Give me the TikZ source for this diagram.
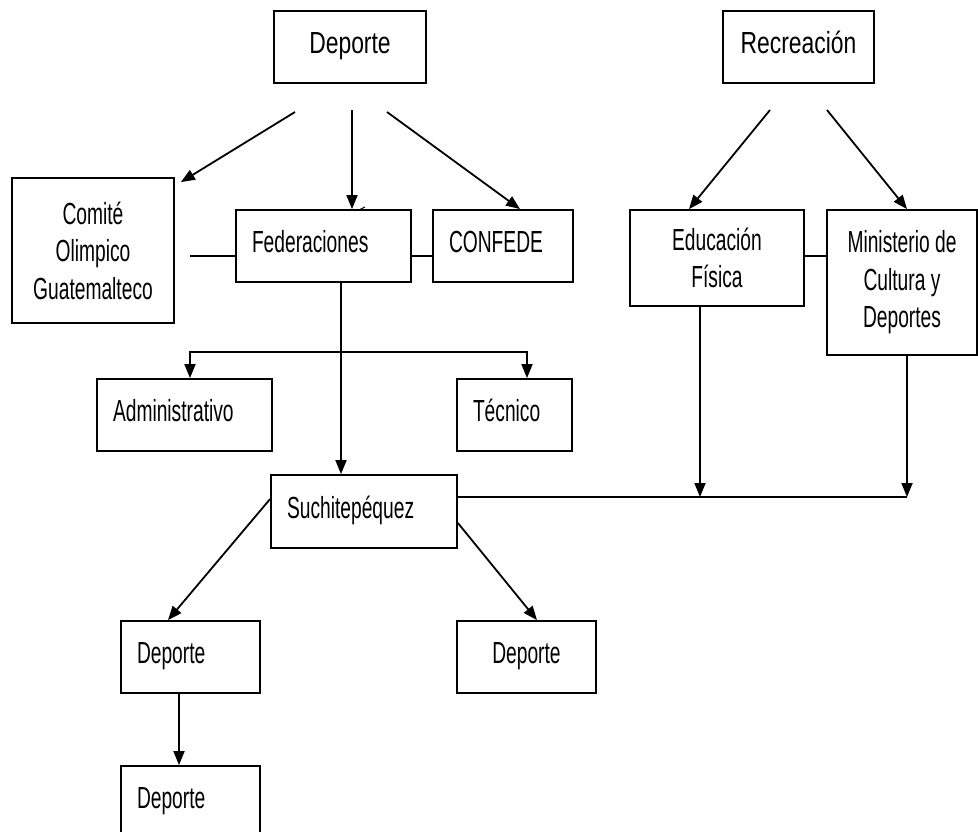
\documentclass[tikz,border=0pt]{standalone}
\usepackage{fontspec}
\setmainfont[FakeStretch=0.63]{Liberation Sans}
\newfontfamily\widerface[FakeStretch=0.75]{Liberation Sans}
\usetikzlibrary{arrows.meta,calc}
\newcommand{\boxfont}{\fontsize{30.5}{37.5}\selectfont}
\newcommand{\topfont}{\widerface\fontsize{30.5}{37.5}\selectfont}
\tikzset{
  box/.style={draw, line width=1.8pt, rectangle, inner sep=0pt, font=\boxfont},
  one/.style={text height=21pt, text depth=8pt},
  lt/.style={text width=#1, align=left},
  ln/.style={line width=1.8pt},
  tip/.tip={Triangle[length=14pt,width=11pt]},
  arr/.style={ln, -tip},
}
\begin{document}
\begin{tikzpicture}[x=1pt,y=-1pt]
\useasboundingbox (0,0) rectangle (978,831);
\clip (0,0) rectangle (978,831);
% boxes
\node[box, one, font=\topfont, minimum width=152, minimum height=72] (dep) at (350,47) {Deporte};
\node[box, one, font=\topfont, minimum width=151, minimum height=72] (rec) at (798.5,47) {Recreación};
\node[box, align=center, minimum width=162, minimum height=145] (com) at (93,250.5) {Comité\\Olimpico\\Guatemalteco};
\node[box, one, lt=143, minimum width=175, minimum height=72] (fed) at (323.5,246) {Federaciones};
\node[box, one, lt=108, minimum width=140, minimum height=72] (conf) at (503,246) {CONFEDE};
\node[box, align=center, minimum width=174, minimum height=96] (edu) at (717,258) {Educación\\Física};
\node[box, align=center, minimum width=150, minimum height=145] (min) at (902,282.5) {Ministerio de\\Cultura y\\Deportes};
\node[box, one, lt=143, minimum width=175, minimum height=72] (adm) at (184.5,415) {Administrativo};
\node[box, one, lt=83, minimum width=115, minimum height=72] (tec) at (514.5,415) {Técnico};
\node[box, one, lt=154, minimum width=186, minimum height=73] (such) at (364,511.5) {Suchitepéquez};
\node[box, one, lt=107, minimum width=139, minimum height=72] (d1) at (190.5,657) {Deporte};
\node[box, one, minimum width=139, minimum height=72] (d2) at (526.5,657) {Deporte};
\node[box, one, lt=107, minimum width=139, minimum height=72] (d3) at (190.5,802) {Deporte};
% connectors from Deporte
\coordinate (s1) at (295,112);
\coordinate (s2) at (352,110);
\coordinate (s3) at (387,112);
\draw[arr] (s1) -- ($(com.north east)+(6,5)$);
\draw[arr] (s2) -- (s2 |- fed.north);
\draw[arr] (s3) -- ($(conf.north)+(17,0)$);
% connectors from Recreación
\coordinate (r1) at (770,110);
\coordinate (r2) at (827,110);
\draw[arr] (r1) -- ($(edu.north)+(-28,0)$);
\draw[arr] (r2) -- ($(min.north)+(5,0)$);
% horizontal links
\coordinate (c1) at (190,256);
\draw[ln] (c1) -- (c1 -| fed.west);
\draw[ln] (fed.east |- c1) -- (conf.west |- c1);
\draw[ln] (edu.east |- c1) -- (min.west |- c1);
\draw[line width=1pt] (359,210) -- (365,207);
% Federaciones branches
\coordinate (fb) at (341,352);
\coordinate (ba) at (190,352);
\coordinate (bt) at (527,352);
\draw[arr] (fb |- fed.south) -- (fb |- such.north);
\draw[ln, tip-tip] (ba |- adm.north) -- (ba) -- (bt) -- (bt |- tec.north);
% Suchitepéquez branches
\draw[arr] ($(such.west)+(0,-12.5)$) -- ($(d1.north)+(-22.5,0)$);
\draw[arr] ($(such.east)+(0,11.5)$) -- ($(d2.north)+(10.5,0)$);
\draw[arr] ($(d1.south)+(-11.5,0)$) -- ($(d3.north)+(-11.5,0)$);
% right side to Suchitepéquez line
\coordinate (hl) at (0,497);
\coordinate (ev) at (700,0);
\coordinate (mv) at (907,0);
\draw[arr] (ev |- edu.south) -- (ev |- hl);
\draw[arr] (mv |- min.south) -- (mv |- hl);
\draw[ln] (such.east |- hl) -- (mv |- hl);
\end{tikzpicture}
\end{document}
